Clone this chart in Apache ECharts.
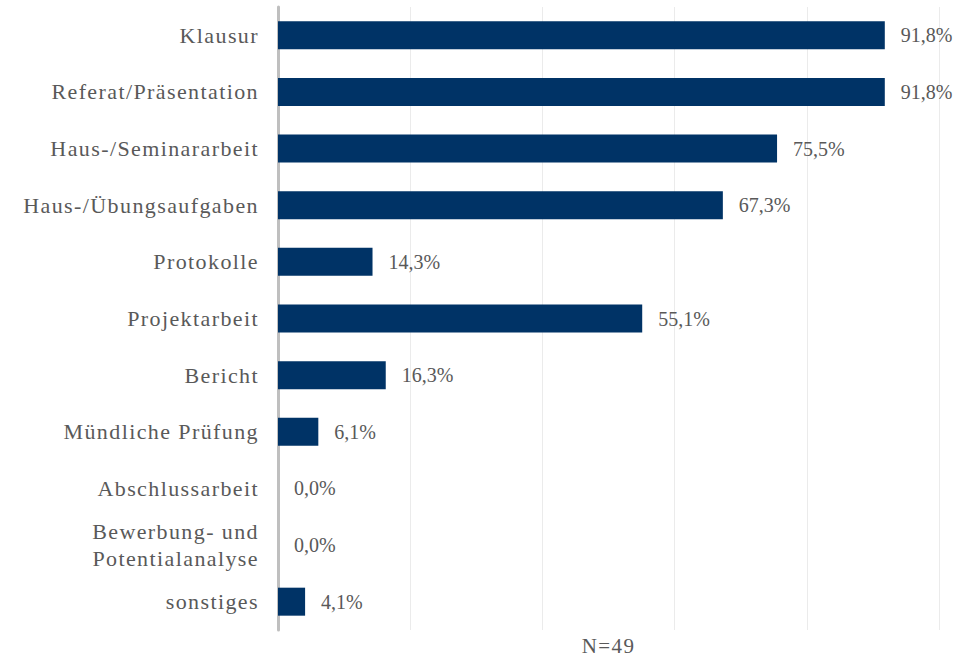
<!DOCTYPE html>
<html><head><meta charset="utf-8">
<script src="https://cdn.jsdelivr.net/npm/echarts@6/dist/echarts.min.js"></script>
<style>html,body{margin:0;padding:0;background:#fff}#c{width:978px;height:658px}</style>
</head><body><div id="c"></div>
<script>
const categories = ["Klausur","Referat/Präsentation","Haus-/Seminararbeit","Haus-/Übungsaufgaben","Protokolle","Projektarbeit","Bericht","Mündliche Prüfung","Abschlussarbeit","Bewerbung- und\nPotentialanalyse","sonstiges"];
const values = [91.8,91.8,75.5,67.3,14.3,55.1,16.3,6.1,0.0,0.0,4.1];
const axisName = "N=49";
const font = "Liberation Serif";
const chart = echarts.init(document.getElementById('c'), null, {renderer:'svg'});
chart.setOption({
  animation:false,
  grid:{left:278,right:39,top:7,bottom:28,containLabel:false,outerBoundsMode:'none'},
  xAxis:{type:'value',min:0,max:100,interval:20,
    name:axisName,nameLocation:'middle',nameGap:5,
    nameTextStyle:{color:'#595959',fontFamily:font,fontSize:21},
    axisLabel:{show:false},axisLine:{show:false},axisTick:{show:false},
    splitLine:{lineStyle:{color:'#ebebeb',width:1}}},
  yAxis:{type:'category',data:categories,inverse:true,
    axisLine:{lineStyle:{color:'#bfbfbf',width:3}},axisTick:{show:false},
    axisLabel:{color:'#595959',fontFamily:font,fontSize:22,margin:19,lineHeight:27,align:'right'}},
  series:[{type:'bar',data:values,barWidth:28,
    itemStyle:{color:'#003366'},
    label:{show:true,position:'right',distance:16,color:'#595959',fontFamily:font,fontSize:20,
      formatter:p=>p.value.toFixed(1).replace('.',',')+'%'}}]
});
// widen tracking of category labels and axis name, as in the reference
const spaced = new Set([].concat(...categories.map(c=>c.split('\n')), [axisName]));
document.querySelectorAll('#c text').forEach(t=>{
  if (spaced.has(t.textContent.trim())) t.style.letterSpacing = '1.4px';
});
</script></body></html>
